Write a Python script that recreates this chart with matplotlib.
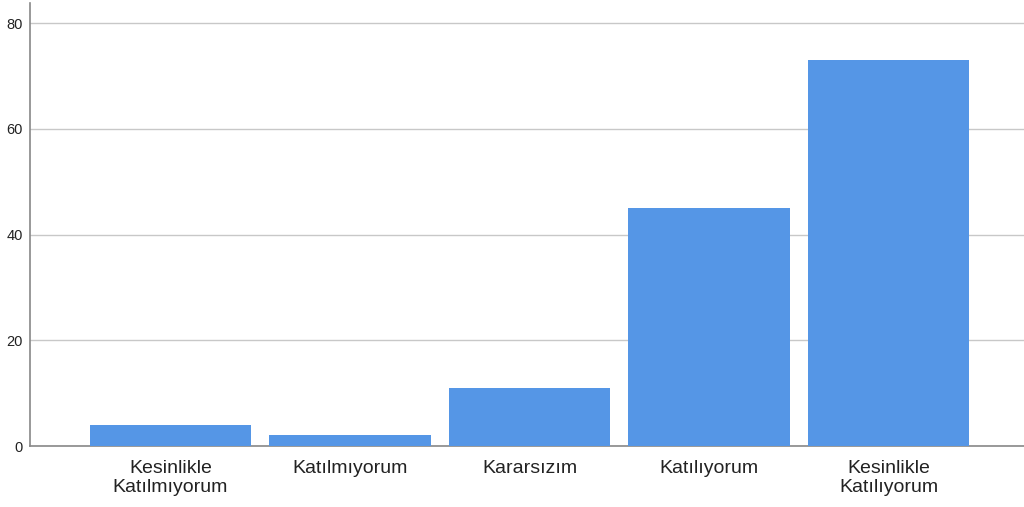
import matplotlib
matplotlib.use("Agg")
import matplotlib.pyplot as plt

categories = ["Kesinlikle\nKatılmıyorum", "Katılmıyorum", "Kararsızım", "Katılıyorum", "Kesinlikle\nKatılıyorum"]
values = [4, 2, 11, 45, 73]
yticks = [0, 20, 40, 60, 80]

plt.rcParams['font.family'] = ['Liberation Sans', 'DejaVu Sans']

fig = plt.figure(figsize=(10.24, 5.07), dpi=100)
ax = fig.add_axes([30/1024, 61/507, 1 - 30/1024, 443/507])

x = list(range(len(categories)))
ax.bar(x, values, width=0.9, color="#5596E6", zorder=3)

ax.set_xlim(-0.783, 4.755)
ax.set_ylim(0, 83.8)
ax.set_yticks(yticks)
ax.set_yticklabels([str(v) for v in yticks], fontsize=10.5, color="#222222")
ax.set_xticks(x)
ax.set_xticklabels(categories, fontsize=14, color="#222222", linespacing=1.15)
ax.tick_params(axis='both', length=0)
ax.tick_params(axis='y', pad=5)
ax.tick_params(axis='x', pad=10)
ax.yaxis.grid(True, color="#c8c8c8", linewidth=1.0, zorder=0)
ax.set_axisbelow(True)
for s in ["top", "right"]:
    ax.spines[s].set_visible(False)
for s in ["left", "bottom"]:
    ax.spines[s].set_color("#888888")
    ax.spines[s].set_linewidth(1.2)

fig.savefig("out.png", dpi=100)
